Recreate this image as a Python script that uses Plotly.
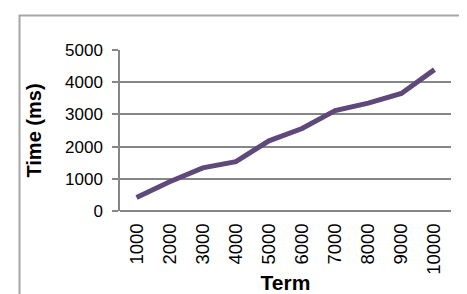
import plotly.graph_objects as go

terms = ["1000", "2000", "3000", "4000", "5000", "6000", "7000", "8000", "9000", "10000"]
times_ms = [420, 910, 1340, 1530, 2180, 2560, 3120, 3350, 3650, 4390]
y_ticks = [0, 1000, 2000, 3000, 4000, 5000]

line_color = "#5f497a"
grid_color = "#868686"
font_family = "Liberation Sans, Arial, sans-serif"

fig = go.Figure()
fig.add_trace(go.Scatter(
    x=terms, y=times_ms, mode="lines",
    line=dict(color=line_color, width=5),
    showlegend=False, hoverinfo="skip",
))

fig.update_layout(
    width=467, height=294,
    margin=dict(l=112, r=24, t=42, b=91),
    paper_bgcolor="white", plot_bgcolor="white",
    font=dict(family=font_family, color="black", size=17),
    xaxis=dict(
        type="category",
        range=[-0.5, len(terms) - 0.5],
        automargin=False,
        showgrid=False,
        showline=False,
        zeroline=False,
        tickangle=-90,
        ticks="outside", ticklen=4, tickcolor="rgba(0,0,0,0)",
        tickfont=dict(size=18.5),
        title=dict(text="<b>Term</b>", font=dict(size=21), standoff=1),
        fixedrange=True,
    ),
    yaxis=dict(
        range=[0, 5000],
        tickvals=y_ticks,
        automargin=False,
        showgrid=True, gridcolor=grid_color, gridwidth=1.5,
        showline=True, linecolor=grid_color, linewidth=1.5,
        zeroline=True, zerolinecolor=grid_color, zerolinewidth=2,
        ticks="outside", ticklen=6, tickcolor=grid_color, tickwidth=1.5,
        ticklabelstandoff=6,
        tickfont=dict(size=17),
        title=dict(text="<b>Time (ms)</b>", font=dict(size=20), standoff=18),
        fixedrange=True,
    ),
    shapes=[dict(
        type="rect", xref="paper", yref="paper",
        x0=-0.3036, x1=1.3, y0=-0.8, y1=1.214,
        line=dict(color="#a6a6a6", width=2), fillcolor="rgba(0,0,0,0)",
        layer="below",
    )],
)

fig.write_html("out.html")
